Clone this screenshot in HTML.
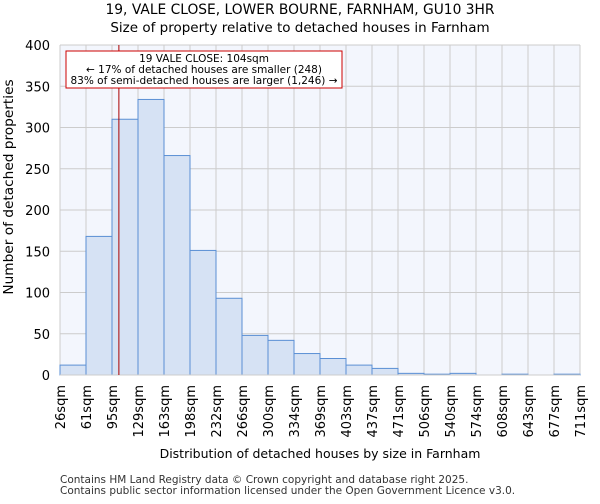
<!DOCTYPE html>
<html><head><meta charset="utf-8"><style>
body{margin:0;background:#fff;font-family:"DejaVu Sans","Liberation Sans",sans-serif;}
</style></head><body>
<svg id="chart" width="600" height="500" xmlns="http://www.w3.org/2000/svg" font-family="DejaVu Sans, Liberation Sans, sans-serif">
<text x="300" y="14" text-anchor="middle" font-size="13.8">19, VALE CLOSE, LOWER BOURNE, FARNHAM, GU10 3HR</text>
<text x="300" y="32" text-anchor="middle" font-size="13.5">Size of property relative to detached houses in Farnham</text>
<rect x="60" y="45" width="520" height="330" fill="#f3f6fd"/>
<g id="grid"></g><g id="bars"></g><g id="ticks"></g>
<line x1="60" y1="375" x2="580" y2="375" stroke="#ccc"/>
<text transform="translate(13,187) rotate(-90)" text-anchor="middle" font-size="13.7">Number of detached properties</text>
<text x="320" y="458" text-anchor="middle" font-size="12.5">Distribution of detached houses by size in Farnham</text>
<g id="marker"></g>
<g>
<rect x="66" y="51" width="276" height="37" fill="#fff" stroke="#c00"/>
<text x="204" y="62" text-anchor="middle" font-size="10.5">19 VALE CLOSE: 104sqm</text>
<text x="204" y="73" text-anchor="middle" font-size="10.5">← 17% of detached houses are smaller (248)</text>
<text x="204" y="84" text-anchor="middle" font-size="10.5">83% of semi-detached houses are larger (1,246) →</text>
</g>
<text x="60" y="483" font-size="10.5" fill="#333">Contains HM Land Registry data © Crown copyright and database right 2025.</text>
<text x="60" y="494" font-size="10.5" fill="#333">Contains public sector information licensed under the Open Government Licence v3.0.</text>
</svg>
<script>
const binLabels=["26sqm","61sqm","95sqm","129sqm","163sqm","198sqm","232sqm","266sqm","300sqm","334sqm","369sqm","403sqm","437sqm","471sqm","506sqm","540sqm","574sqm","608sqm","643sqm","677sqm","711sqm"];
const counts=[12,168,310,334,266,151,93,48,42,26,20,12,8,2,1,2,0,1,0,1];
const yTicks=[0,50,100,150,200,250,300,350,400];
const binEdges=[26,61,95,129,163,198,232,266,300,334,369,403,437,471,506,540,574,608,643,677,711];
const propertySize=104;
const NS="http://www.w3.org/2000/svg";
const X0=60,W=520,Y0=375,H=330,YMAX=400;
const nb=counts.length,bw=W/nb;
const xi=i=>X0+i*bw;
const y=v=>Y0-v/YMAX*H;
function mk(t,a,p){const e=document.createElementNS(NS,t);for(const k in a)e.setAttribute(k,a[k]);p.appendChild(e);return e;}
const grid=document.getElementById('grid'),bars=document.getElementById('bars'),ticks=document.getElementById('ticks');
yTicks.forEach(t=>{const l=mk('line',{x1:X0,x2:X0+W,y1:y(t),y2:y(t),stroke:'#ccc'},grid);


const tx=mk('text',{x:X0-10,y:y(t)+5,'text-anchor':'end','font-size':13},ticks);tx.textContent=t;

});
binLabels.forEach((lb,i)=>{const l=mk('line',{x1:xi(i),x2:xi(i),y1:Y0-H,y2:Y0,stroke:'#ccc'},grid);


const tx=mk('text',{transform:`translate(${xi(i)+5},${Y0+10}) rotate(-90)`,'text-anchor':'end','font-size':13},ticks);tx.textContent=lb;

});
counts.forEach((c,i)=>{if(c<=0)return;const r=mk('rect',{x:xi(i),y:y(c),width:bw,height:Y0-y(c),fill:'#d6e2f4',stroke:'#5a8fd4','stroke-width':1},bars);

});
let k=0;while(k<binEdges.length-2&&propertySize>binEdges[k+1])k++;
const mx=xi(k)+(propertySize-binEdges[k])/(binEdges[k+1]-binEdges[k])*bw;
const m=mk('line',{x1:mx,x2:mx,y1:Y0-H,y2:Y0,stroke:'#a00','stroke-width':1},document.getElementById('marker'));


</script>
</body></html>
